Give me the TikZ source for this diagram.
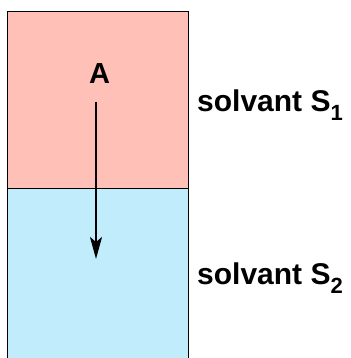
\documentclass[tikz,border=0pt]{standalone}
\usepackage{fontspec}
\setmainfont{Liberation Sans}
\usetikzlibrary{arrows.meta, positioning}
\definecolor{layerPink}{RGB}{255,192,184}
\definecolor{layerBlue}{RGB}{192,236,252}

\begin{document}
\begin{tikzpicture}[
    x=1pt, y=-1pt,
    layerBox/.style={draw=black, line width=1pt, inner sep=0pt, outer sep=0pt, minimum width=181pt}, % 溶剂层矩形
    solvLabel/.style={font=\fontsize{30}{32}\selectfont\bfseries, inner sep=0pt, anchor=base west}, % 右侧标签
    dropArrow/.style={line width=2.2pt, -{Stealth[length=22pt, width=12pt, inset=5pt]}}, % 迁移箭头
]
    \useasboundingbox (0,0) rectangle (350,358);

    % 1. 上下两层溶剂
    \node[layerBox, fill=layerPink, minimum height=176.5pt, anchor=north west] (s1) at (7.5,12) {};
    \node[layerBox, fill=layerBlue, minimum height=172pt, below=0pt of s1.south west, anchor=north west] (s2) {};

    % 2. 溶质 A 及其向下迁移
    \node[font=\fontsize{29}{30}\selectfont\bfseries, inner sep=0pt, anchor=base] (solA) at (99.5,84) {A};
    \coordinate (arrEnd) at (96,259);
    \draw[dropArrow, shorten <=18pt] (solA.base -| arrEnd) -- (arrEnd);

    % 3. 溶剂名称
    \node[solvLabel] (lab1) at (197,112) {solvant S\raisebox{-9pt}{\fontsize{22}{22}\selectfont 1}};
    \node[solvLabel] (lab2) at (197,284) {solvant S\raisebox{-9pt}{\fontsize{22}{22}\selectfont 2}};
\end{tikzpicture}
\end{document}
